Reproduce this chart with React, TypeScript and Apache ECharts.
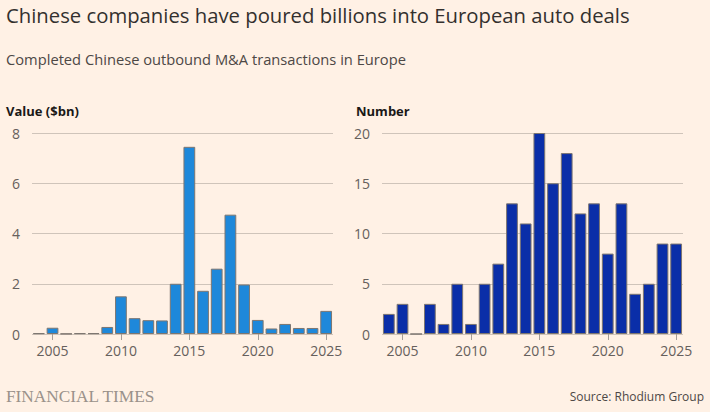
import React, { useEffect, useRef } from "react";
import * as echarts from "echarts";

const years = ["2004","2005","2006","2007","2008","2009","2010","2011","2012","2013","2014","2015","2016","2017","2018","2019","2020","2021","2022","2023","2024","2025"];
const valueBn = [0.03,0.25,0.01,0.03,0.03,0.28,1.5,0.63,0.55,0.54,2.0,7.45,1.72,2.6,4.75,1.97,0.56,0.22,0.4,0.24,0.24,0.92];
const dealCount = [2,3,0,3,1,5,1,5,7,13,11,20,15,18,12,13,8,13,4,5,9,9];

const titleText = "Chinese companies have poured billions into European auto deals";
const subtitleText = "Completed Chinese outbound M&A transactions in Europe";
const leftAxisTitle = "Value ($bn)";
const rightAxisTitle = "Number";
const sourceText = "Source: Rhodium Group";
const brandText = "FINANCIAL TIMES";

const FONT = "'Open Sans', 'Noto Sans', sans-serif";
const labelEvery5 = (_i: number, v: string) => Number(v) % 5 === 0;

export default function App() {
  const ref = useRef<HTMLDivElement>(null);
  useEffect(() => {
    if (!ref.current) return;
    document.body.style.margin = "0";
    const chart = echarts.init(ref.current, null, { renderer: "svg" });
    const xAxisCommon = {
      type: "category",
      data: years,
      boundaryGap: true,
      axisLine: { show: false },
      axisTick: { show: true, interval: labelEvery5, alignWithLabel: true, length: 6, lineStyle: { color: "#a59d96" } },
      axisLabel: { interval: labelEvery5, color: "#66605c", fontSize: 14, fontFamily: FONT, margin: 9 },
    };
    const yAxisCommon = {
      type: "value",
      min: 0,
      axisLine: { show: false },
      axisTick: { show: false },
      axisLabel: { color: "#66605c", fontSize: 14, fontFamily: FONT, margin: 12 },
      splitLine: { lineStyle: { color: "#cfc4ba", width: 1 } },
    };
    chart.setOption({
      animation: false,
      backgroundColor: "#fff1e5",
      grid: [
        { left: 32, right: 377, top: 133, bottom: 78 },
        { left: 382, right: 27, top: 133, bottom: 78 },
      ],
      xAxis: [
        { ...xAxisCommon, gridIndex: 0 },
        { ...xAxisCommon, gridIndex: 1 },
      ],
      yAxis: [
        { ...yAxisCommon, gridIndex: 0, max: 8, interval: 2 },
        { ...yAxisCommon, gridIndex: 1, max: 20, interval: 5 },
      ],
      series: [
        {
          type: "bar",
          xAxisIndex: 0,
          yAxisIndex: 0,
          data: valueBn,
          barCategoryGap: "14%",
          itemStyle: { color: "#1e88da", borderColor: "#7d7670", borderWidth: 1 },
        },
        {
          type: "bar",
          xAxisIndex: 1,
          yAxisIndex: 1,
          data: dealCount,
          barCategoryGap: "14%",
          itemStyle: { color: "#0a2ea8", borderColor: "#7d7670", borderWidth: 1 },
        },
      ],
      graphic: [
        { type: "text", left: 6, top: 5, style: { text: titleText, fill: "#33302e", fontSize: 20.3, fontFamily: FONT } },
        { type: "text", left: 6, top: 51, style: { text: subtitleText, fill: "#4d4845", fontSize: 14.7, fontFamily: FONT } },
        { type: "text", left: 6, top: 104, style: { text: leftAxisTitle, fill: "#1a1817", fontSize: 13, fontWeight: "bold", fontFamily: FONT } },
        { type: "text", left: 356, top: 104, style: { text: rightAxisTitle, fill: "#1a1817", fontSize: 13, fontWeight: "bold", fontFamily: FONT } },
        { type: "text", left: 6, top: 388, style: { text: brandText, fill: "#9a918a", fontSize: 17.3, fontFamily: "'Liberation Serif', serif" } },
        { type: "text", right: 6, top: 390, style: { text: sourceText, fill: "#4d4845", fontSize: 12, fontFamily: FONT } },
      ],
    });
    return () => chart.dispose();
  }, []);
  return <div ref={ref} style={{ width: 710, height: 412 }} />;
}
